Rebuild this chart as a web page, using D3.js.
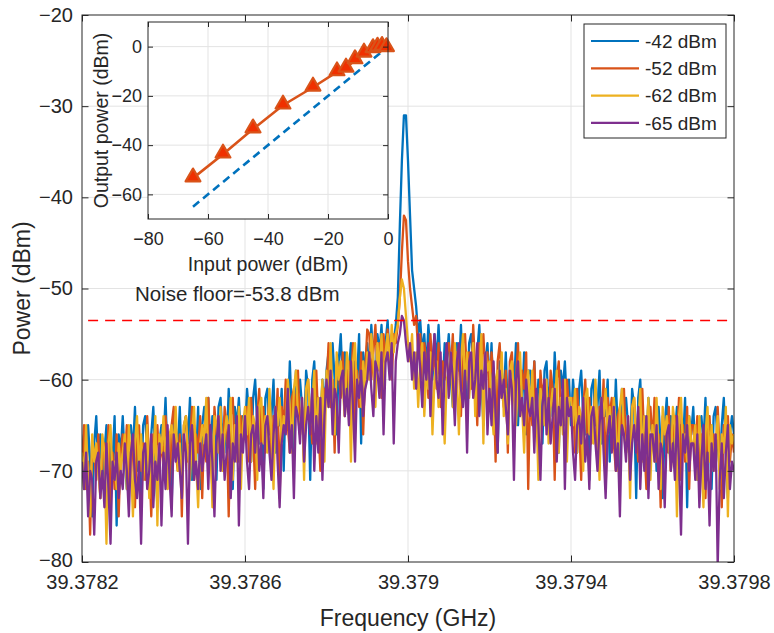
<!DOCTYPE html>
<html>
<head>
<meta charset="utf-8">
<script src="https://cdn.jsdelivr.net/npm/d3@7/dist/d3.min.js"></script>
<style>
  body { margin: 0; background: #fff; }
  text { font-family: "Liberation Sans", Arial, Helvetica, sans-serif; fill: #262626; }
</style>
</head>
<body>
<div id="container"></div>
<script>
// frequency span of the spectrum analyser trace (GHz)
var freqStart = 39.3782, freqStop = 39.3798;
var xTicks = [39.3782, 39.3786, 39.379, 39.3794, 39.3798];
var yTicks = [-80, -70, -60, -50, -40, -30, -20];

var seriesNames = ["-42 dBm", "-52 dBm", "-62 dBm", "-65 dBm"];
var seriesColors = ["#0072BD", "#D95319", "#EDB120", "#7E2F8E"];

// power traces (dBm), one value per frequency sample
var p42 = [
  -68,-66,-72,-65,-69,-75,-67,-64,-70,-66,-71,-68,-65,-73,-67,-69,-64,-76,-66,-68,
  -64,-69,-72,-66,-65,-68,-63,-70,-67,-73,-65,-64,-68,-71,-66,-63,-69,-74,-67,-65,
  -67,-62,-69,-66,-74,-64,-65,-68,-63,-70,-66,-64,-67,-62,-71,-65,-69,-63,-72,-65,
  -63,-66,-62,-69,-64,-65,-71,-63,-62,-67,-64,-68,-61,-66,-72,-63,-65,-62,-67,-64,
  -66,-61,-64,-69,-62,-60,-65,-67,-63,-72,-62,-61,-66,-64,-60,-68,-63,-65,-61,-70,
  -61,-65,-58,-64,-68,-59,-62,-60,-63,-66,-59,-61,-71,-60,-58,-64,-62,-65,-60,-63,
  -59,-57,-63,-56,-60,-66,-58,-55,-61,-57,-62,-59,-56,-64,-58,-60,-55,-67,-57,-59,
  -56,-59,-54,-58,-61,-55,-57,-54,-59,-56,-53.5,-58,-55,-56,-54,-51,-43,-36,-31,-31,
  -36,-42,-48,-50,-52,-55,-53.5,-57,-55,-59,-54,-57,-60,-55,-58,-54,-59,-61,-56,-58,
  -55,-60,-63,-57,-56,-59,-54,-61,-58,-64,-56,-55,-59,-62,-57,-54,-60,-65,-58,-56,
  -61,-56,-63,-60,-68,-58,-59,-62,-57,-64,-60,-58,-61,-56,-65,-59,-63,-57,-66,-59,
  -59,-62,-58,-65,-60,-61,-67,-59,-58,-63,-60,-64,-57,-62,-68,-59,-61,-58,-63,-60,
  -65,-60,-63,-68,-61,-59,-64,-66,-62,-71,-61,-60,-65,-63,-59,-67,-62,-64,-60,-69,
  -63,-67,-60,-66,-70,-61,-64,-62,-65,-68,-61,-63,-73,-62,-60,-66,-64,-67,-62,-65,
  -66,-64,-70,-63,-67,-73,-65,-62,-68,-64,-69,-66,-63,-71,-65,-67,-62,-74,-64,-66,
  -63,-68,-71,-65,-64,-67,-62,-69,-66,-72,-64,-63,-67,-70,-65,-62,-68,-73,-66,-64,
  -66
];
var p52 = [
  -70,-65,-72,-69,-77,-67,-68,-71,-66,-73,-69,-67,-70,-65,-74,-68,-72,-66,-75,-68,
  -66,-69,-65,-72,-67,-68,-74,-66,-65,-70,-67,-71,-64,-69,-75,-66,-68,-65,-70,-67,
  -69,-64,-67,-72,-65,-63,-68,-70,-66,-75,-65,-64,-69,-67,-63,-71,-66,-68,-64,-73,
  -65,-69,-62,-68,-72,-63,-66,-64,-67,-70,-63,-65,-75,-64,-62,-68,-66,-69,-64,-67,
  -65,-63,-69,-62,-66,-72,-64,-61,-67,-63,-68,-65,-62,-70,-64,-66,-61,-73,-63,-65,
  -60,-65,-68,-62,-61,-64,-59,-66,-63,-69,-61,-60,-64,-67,-62,-59,-65,-70,-63,-61,
  -61,-56,-63,-60,-68,-58,-59,-62,-57,-64,-60,-58,-61,-56,-65,-59,-63,-57,-66,-59,
  -54.5,-55,-60,-57,-54,-59,-56,-62,-55,-58,-54.5,-57,-60,-55,-56,-54,-51,-46,-42,-42.5,
  -47,-50,-52,-54,-53,-57,-55,-60,-56,-58,-62,-55,-59,-57,-61,-56,-63,-58,-60,-57,
  -56,-59,-55,-62,-57,-58,-64,-56,-55,-60,-57,-61,-54,-59,-65,-56,-58,-55,-60,-57,
  -62,-57,-60,-69,-58,-56,-61,-63,-59,-68,-58,-57,-62,-60,-56,-64,-59,-61,-57,-72,
  -61,-65,-58,-64,-68,-59,-62,-60,-63,-66,-59,-61,-71,-60,-58,-64,-62,-65,-60,-63,
  -64,-62,-68,-61,-65,-71,-63,-60,-66,-62,-67,-64,-61,-69,-63,-65,-60,-72,-62,-64,
  -62,-67,-70,-64,-63,-66,-61,-68,-65,-71,-63,-62,-66,-69,-64,-61,-67,-72,-65,-63,
  -67,-62,-69,-66,-74,-64,-65,-68,-63,-70,-66,-64,-67,-62,-71,-65,-69,-63,-72,-65,
  -65,-68,-64,-71,-66,-67,-73,-65,-64,-69,-66,-70,-63,-68,-74,-65,-67,-64,-69,-66,
  -68
];
var p62 = [
  -68,-72,-65,-71,-75,-66,-69,-67,-70,-73,-66,-68,-78,-67,-65,-71,-69,-72,-67,-70,
  -68,-66,-72,-65,-69,-75,-67,-64,-70,-66,-71,-68,-65,-73,-67,-69,-64,-76,-66,-68,
  -64,-69,-72,-66,-65,-68,-63,-70,-67,-73,-65,-64,-68,-71,-66,-63,-69,-74,-67,-65,
  -67,-62,-69,-66,-74,-64,-65,-68,-63,-70,-66,-64,-67,-62,-71,-65,-69,-63,-72,-65,
  -63,-66,-62,-69,-64,-65,-71,-63,-62,-67,-64,-68,-61,-66,-72,-63,-65,-62,-67,-64,
  -65,-60,-63,-68,-61,-59,-64,-66,-62,-71,-61,-60,-65,-63,-59,-67,-62,-64,-60,-69,
  -59,-63,-56,-62,-66,-57,-60,-58,-61,-64,-57,-59,-69,-58,-56,-62,-60,-63,-58,-61,
  -57,-60,-55,-58,-63,-56,-59,-55,-61,-57,-55,-59,-54,-57,-55,-54,-51,-49,-50,-53,
  -56,-58,-55,-61,-57,-63,-58,-56,-64,-59,-61,-57,-66,-60,-58,-63,-59,-62,-67,-60,
  -59,-57,-63,-56,-60,-66,-58,-55,-61,-57,-62,-59,-56,-64,-58,-60,-55,-67,-57,-59,
  -58,-63,-66,-60,-59,-62,-57,-64,-61,-67,-59,-58,-62,-65,-60,-57,-63,-68,-61,-59,
  -64,-59,-66,-63,-71,-61,-62,-65,-60,-67,-63,-61,-64,-59,-68,-62,-66,-60,-69,-62,
  -62,-65,-61,-68,-63,-64,-70,-62,-61,-66,-63,-67,-60,-65,-71,-62,-64,-61,-66,-63,
  -67,-62,-65,-70,-63,-61,-66,-68,-64,-73,-63,-62,-67,-65,-61,-69,-64,-66,-62,-71,
  -65,-69,-62,-68,-72,-63,-66,-64,-67,-70,-63,-65,-75,-64,-62,-68,-66,-69,-64,-67,
  -67,-65,-71,-64,-68,-74,-66,-63,-69,-65,-70,-67,-64,-72,-66,-68,-63,-75,-65,-67,
  -66
];
var p65 = [
  -69,-72,-68,-75,-70,-71,-77,-69,-68,-73,-70,-74,-67,-72,-78,-69,-71,-68,-73,-70,
  -72,-67,-70,-75,-68,-66,-71,-73,-69,-78,-68,-67,-72,-70,-66,-74,-69,-71,-67,-76,
  -68,-72,-65,-71,-75,-66,-69,-67,-70,-73,-66,-68,-78,-67,-65,-71,-69,-72,-67,-70,
  -68,-66,-72,-65,-69,-75,-67,-64,-70,-66,-71,-68,-65,-73,-67,-69,-64,-76,-66,-68,
  -64,-69,-72,-66,-65,-68,-63,-70,-67,-73,-65,-64,-68,-71,-66,-63,-69,-74,-67,-65,
  -66,-61,-68,-65,-73,-63,-64,-67,-62,-69,-65,-63,-66,-61,-70,-64,-68,-62,-71,-64,
  -60,-63,-59,-66,-61,-62,-68,-60,-59,-64,-61,-65,-58,-63,-69,-60,-62,-59,-64,-61,
  -60,-57,-61,-64,-58,-59,-62,-57,-66,-58,-57,-60,-56,-67,-58,-56,-55,-53,-53.5,-56,
  -58,-56,-60,-57,-61,-55,-59,-63,-57,-60,-56,-64,-58,-55,-60,-62,-57,-66,-59,-56,
  -62,-57,-60,-65,-58,-56,-61,-63,-59,-68,-58,-57,-62,-60,-56,-64,-59,-61,-57,-66,
  -61,-65,-58,-64,-68,-59,-62,-60,-63,-66,-59,-61,-71,-60,-58,-64,-62,-65,-60,-63,
  -64,-62,-68,-61,-65,-71,-63,-60,-66,-62,-67,-64,-61,-69,-63,-65,-60,-72,-62,-64,
  -63,-68,-71,-65,-64,-67,-62,-69,-66,-72,-64,-63,-67,-70,-65,-62,-68,-73,-66,-64,
  -68,-63,-70,-67,-75,-65,-66,-69,-64,-71,-67,-65,-68,-63,-72,-66,-70,-64,-73,-66,
  -66,-69,-65,-72,-67,-68,-74,-66,-65,-70,-67,-71,-64,-69,-77,-66,-68,-65,-70,-67,
  -67,-71,-66,-74,-69,-65,-72,-68,-76,-67,-70,-66,-80.5,-71,-67,-73,-68,-65,-72,-69,
  -70
];

// noise floor marker
var noiseFloorY = -53.5;
var noiseFloorX = [39.378215, 39.379785];
var noiseLabel = "Noise floor=-53.8 dBm";
var noiseLabelPos = [39.37833, -51.4];

// inset: output vs input power
var inputPower  = [-65, -55, -45, -35, -25, -17, -14, -11, -8, -5, -3.5, -2, -0.5];
var outputPower = [-53.4, -43.7, -33.5, -23.8, -16.5, -10.3, -8.8, -5.4, -2.7, -0.9, -0.3, 0, -0.5];
var idealLine = [-65, 0];   // y = x reference
var insetXTicks = [-80, -60, -40, -20, 0];
var insetYTicks = [-60, -40, -20, 0];

var svg = d3.select("div#container").append("svg").attr("width", 774).attr("height", 633),
    margin = {top: 15, bottom: 71, left: 82, right: 40},
    width = 774 - margin.left - margin.right,
    height = 633 - margin.top - margin.bottom;

var g = svg.append("g").attr("transform", "translate(" + margin.left + "," + margin.top + ")");

var xScale = d3.scaleLinear().domain([freqStart, freqStop]).range([0, width]);
var yScale = d3.scaleLinear().domain([-80, -20]).range([height, 0]);

// grid
g.append("g").selectAll("line").data(xTicks.slice(1, -1)).enter().append("line")
  .attr("x1", function(d) { return xScale(d); }).attr("x2", function(d) { return xScale(d); })
  .attr("y1", 0).attr("y2", height).attr("stroke", "#e3e3e3").attr("stroke-width", 1);
g.append("g").selectAll("line").data(yTicks.slice(1, -1)).enter().append("line")
  .attr("y1", function(d) { return yScale(d); }).attr("y2", function(d) { return yScale(d); })
  .attr("x1", 0).attr("x2", width).attr("stroke", "#e3e3e3").attr("stroke-width", 1);

// traces
g.append("clipPath").attr("id", "plotclip").append("rect").attr("width", width).attr("height", height);
var traces = [p42, p52, p62, p65];
var plot = g.append("g").attr("clip-path", "url(#plotclip)");
traces.forEach(function(vals, s) {
  var step = (freqStop - freqStart) / (vals.length - 1);
  var line = d3.line()
    .x(function(d, i) { return xScale(freqStart + i * step); })
    .y(function(d) { return yScale(d); });
  plot.append("path").datum(vals)
    .attr("d", line)
    .attr("fill", "none")
    .attr("stroke", seriesColors[s])
    .attr("stroke-width", 2.3)
    .attr("stroke-linejoin", "round");
});

// noise floor
g.append("line")
  .attr("x1", xScale(noiseFloorX[0])).attr("x2", xScale(noiseFloorX[1]))
  .attr("y1", yScale(noiseFloorY)).attr("y2", yScale(noiseFloorY))
  .attr("stroke", "#ff0000").attr("stroke-width", 1.5).attr("stroke-dasharray", "10,7");
g.append("text")
  .attr("x", xScale(noiseLabelPos[0])).attr("y", yScale(noiseLabelPos[1]))
  .style("font-size", "20.5px").text(noiseLabel);

// axes (ticks pointing inward, box all round)
var xFmt = function(d) { return String(+d.toFixed(4)); };
g.append("g").attr("transform", "translate(0," + height + ")")
  .call(d3.axisBottom(xScale).tickValues(xTicks).tickFormat(xFmt).tickSizeInner(-6.5).tickSizeOuter(0).tickPadding(12.5))
  .style("font-size", "20px");
var yAx = g.append("g")
  .call(d3.axisLeft(yScale).tickValues(yTicks).tickSizeInner(-6.5).tickSizeOuter(0).tickPadding(9))
  .style("font-size", "20px");
// lift the bottom label a touch so it clears the x tick labels
yAx.selectAll(".tick text").filter(function(d) { return d === -80; }).attr("dy", "0.2em");
g.append("g")
  .call(d3.axisTop(xScale).tickValues(xTicks).tickFormat("").tickSizeInner(-6.5).tickSizeOuter(0));
g.append("g").attr("transform", "translate(" + width + ",0)")
  .call(d3.axisRight(yScale).tickValues(yTicks).tickFormat("").tickSizeInner(-6.5).tickSizeOuter(0));
g.selectAll(".domain").remove();
g.selectAll(".tick line").attr("stroke", "#262626");
g.selectAll(".tick text").attr("fill", "#262626").style("font-family", "'Liberation Sans', Arial, sans-serif");
g.append("rect").attr("width", width).attr("height", height)
  .attr("fill", "none").attr("stroke", "#262626").attr("stroke-width", 1);

// axis labels
svg.append("text").attr("x", margin.left + width / 2).attr("y", 626)
  .attr("text-anchor", "middle").style("font-size", "23px").text("Frequency (GHz)");
svg.append("text").attr("transform", "translate(30," + (margin.top + height / 2) + ") rotate(-90)")
  .attr("text-anchor", "middle").style("font-size", "23px").text("Power (dBm)");

// legend
var legend = svg.append("g").attr("transform", "translate(584,24)");
legend.append("rect").attr("width", 142).attr("height", 114)
  .attr("fill", "#fff").attr("stroke", "#262626").attr("stroke-width", 1);
seriesNames.forEach(function(name, i) {
  var ly = 17 + i * 27.3;
  legend.append("line").attr("x1", 7).attr("x2", 55).attr("y1", ly).attr("y2", ly)
    .attr("stroke", seriesColors[i]).attr("stroke-width", 2.2);
  legend.append("text").attr("x", 61).attr("y", ly).attr("dy", "0.35em")
    .style("font-size", "19px").text(name);
});

// inset
var ins = {left: 148, top: 22, w: 240, h: 197};
var ig = svg.append("g").attr("transform", "translate(" + ins.left + "," + ins.top + ")");
var ix = d3.scaleLinear().domain([-80, 0]).range([0, ins.w]);
var iy = d3.scaleLinear().domain([-70, 10]).range([ins.h, 0]);
ig.append("rect").attr("width", ins.w).attr("height", ins.h).attr("fill", "#fff");
ig.append("g").selectAll("line").data(insetXTicks.slice(1, -1)).enter().append("line")
  .attr("x1", function(d) { return ix(d); }).attr("x2", function(d) { return ix(d); })
  .attr("y1", 0).attr("y2", ins.h).attr("stroke", "#e3e3e3");
ig.append("g").selectAll("line").data(insetYTicks).enter().append("line")
  .attr("y1", function(d) { return iy(d); }).attr("y2", function(d) { return iy(d); })
  .attr("x1", 0).attr("x2", ins.w).attr("stroke", "#e3e3e3");

ig.append("path").datum(idealLine)
  .attr("d", d3.line().x(function(d) { return ix(d); }).y(function(d) { return iy(d); }))
  .attr("fill", "none").attr("stroke", "#0072BD").attr("stroke-width", 2.6).attr("stroke-dasharray", "8,5");

var meas = inputPower.map(function(d, i) { return [d, outputPower[i]]; });
ig.append("path").datum(meas)
  .attr("d", d3.line().x(function(d) { return ix(d[0]); }).y(function(d) { return iy(d[1]); }))
  .attr("fill", "none").attr("stroke", "#D95319").attr("stroke-width", 2.6);
var tri = d3.symbol().type(d3.symbolTriangle).size(95);
ig.selectAll(".mk").data(meas).enter().append("path").attr("class", "mk")
  .attr("transform", function(d) { return "translate(" + ix(d[0]) + "," + (iy(d[1]) - 1) + ")"; })
  .attr("d", tri).attr("fill", "#f03000").attr("stroke", "#D95319").attr("stroke-width", 2.2)
  .attr("stroke-linejoin", "round");

ig.append("g").attr("transform", "translate(0," + ins.h + ")")
  .call(d3.axisBottom(ix).tickValues(insetXTicks).tickSizeInner(-5).tickSizeOuter(0).tickPadding(13))
  .style("font-size", "18px");
ig.append("g")
  .call(d3.axisLeft(iy).tickValues(insetYTicks).tickSizeInner(-5).tickSizeOuter(0).tickPadding(6))
  .style("font-size", "18px");
ig.append("g").call(d3.axisTop(ix).tickValues(insetXTicks).tickFormat("").tickSizeInner(-5).tickSizeOuter(0));
ig.append("g").attr("transform", "translate(" + ins.w + ",0)")
  .call(d3.axisRight(iy).tickValues(insetYTicks).tickFormat("").tickSizeInner(-5).tickSizeOuter(0));
ig.selectAll(".domain").remove();
ig.selectAll(".tick line").attr("stroke", "#262626");
ig.selectAll(".tick text").attr("fill", "#262626").style("font-family", "'Liberation Sans', Arial, sans-serif");
ig.append("rect").attr("width", ins.w).attr("height", ins.h)
  .attr("fill", "none").attr("stroke", "#262626").attr("stroke-width", 1);
ig.append("text").attr("x", ins.w / 2).attr("y", ins.h + 52)
  .attr("text-anchor", "middle").style("font-size", "19.5px").text("Input power (dBm)");
ig.append("text").attr("transform", "translate(-40," + ins.h / 2 + ") rotate(-90)")
  .attr("text-anchor", "middle").style("font-size", "19.5px").text("Output power (dBm)");
</script>
</body>
</html>
